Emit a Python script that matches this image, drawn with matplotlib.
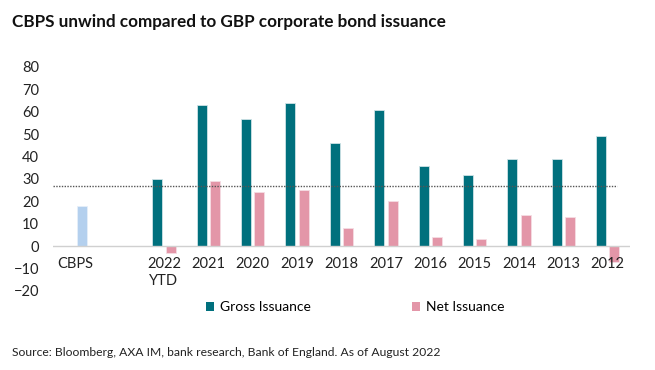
import matplotlib
matplotlib.use("Agg")
import matplotlib.pyplot as plt
from matplotlib.patches import Patch

categories = ["CBPS", "", "2022\nYTD", "2021", "2020", "2019", "2018", "2017",
              "2016", "2015", "2014", "2013", "2012"]
gross = [None, None, 30, 63, 57, 64, 46, 61, 36, 32, 39, 39, 49]
net = [None, None, -3, 29, 24, 25, 8, 20, 4, 3, 14, 13, -7]
cbps = [18]
avg_level = 27

plt.rcParams['font.family'] = ['Lato', 'DejaVu Sans']

teal = "#00707D"
pink = "#E396A8"
lblue = "#B4D0EE"

fig = plt.figure(figsize=(6.55, 3.7), dpi=100)
ax = fig.add_axes([53/655, (370-291)/370, (630-53)/655, (291-67)/370])

w = 0.225
off = 0.15
xs = list(range(len(categories)))
for i, (g, n) in enumerate(zip(gross, net)):
    if g is not None:
        ax.bar(i - off, g, width=w, color=teal, edgecolor="#cfe3e6", linewidth=0.6)
    if n is not None:
        ax.bar(i + off, n, width=w, color=pink, edgecolor="#f5dde3", linewidth=0.6)
ax.bar(0 + off, cbps[0], width=w, color=lblue, edgecolor="#e6eff9", linewidth=0.6)

ax.hlines(avg_level, -0.5, 12.2, colors="#555555", linestyles=(0, (1, 1)), linewidth=1.0)
ax.axhline(0, color="#d0d0d0", linewidth=1.0)

ax.set_xlim(-0.5, 12.5)
ax.set_ylim(-20, 80)
ax.set_yticks(range(-20, 81, 10))
ax.set_xticks(xs)
ax.set_xticklabels([])
for s in ax.spines.values():
    s.set_visible(False)
ax.tick_params(axis='both', length=0, labelsize=10.5, colors="#222222")
ax.tick_params(axis='y', pad=10)

for i, c in enumerate(categories):
    ax.text(i, -5.0, c, ha='center', va='top', fontsize=10.5, color="#222222",
            linespacing=1.25)

handles = [Patch(facecolor=teal, edgecolor='none'), Patch(facecolor=pink, edgecolor='none')]
fig.legend(handles, ["Gross Issuance", "Net Issuance"], loc='center',
           bbox_to_anchor=(355/655, 1 - 307/370), ncol=2, frameon=False,
           fontsize=10, handlelength=0.6, handleheight=0.6, handletextpad=0.4,
           columnspacing=7.3)

fig.text(12/655, 1 - 22/370, "CBPS unwind compared to GBP corporate bond issuance",
         fontsize=12.3, fontweight='bold', va='center', ha='left', color="#111111")
fig.text(12/655, 1 - 352/370,
         "Source: Bloomberg, AXA IM, bank research, Bank of England. As of August 2022",
         fontsize=8.7, va='center', ha='left', color="#222222")

fig.savefig("out.png", dpi=100)
